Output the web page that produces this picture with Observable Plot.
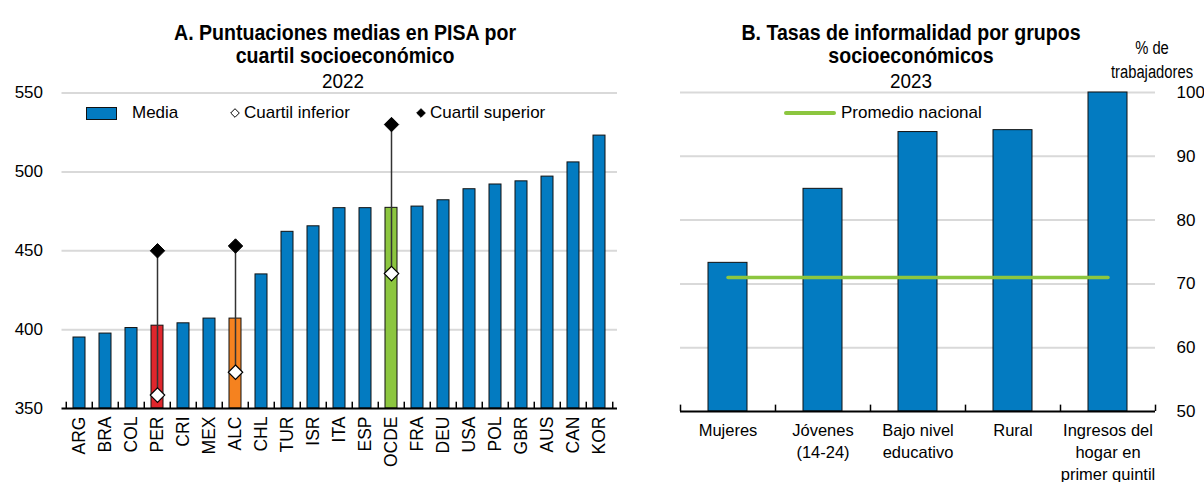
<!DOCTYPE html>
<html>
<head>
<meta charset="utf-8">
<script src="https://cdn.jsdelivr.net/npm/d3@7"></script>
<script src="https://cdn.jsdelivr.net/npm/@observablehq/plot@0.6"></script>
<style>
  body { margin: 0; background: #fff; font-family: "Liberation Sans", Arial, sans-serif; color: #000; }
  #wrap { position: relative; width: 1204px; height: 482px; overflow: hidden; }
  .abs { position: absolute; }
  .title { font-family: "Liberation Sans", Arial, sans-serif; font-weight: bold; font-size: 22px; line-height: 23px; text-align: center; white-space: nowrap; transform: scaleX(0.89); transform-origin: center; }
  .sub { font-family: "Liberation Sans", Arial, sans-serif; font-size: 21px; line-height: 22px; text-align: center; transform: scaleX(0.9); transform-origin: center; }
  .leg { font-size: 17px; line-height: 20px; white-space: nowrap; display: flex; align-items: center; }
  .unit { font-family: "Liberation Sans", Arial, sans-serif; font-size: 18px; line-height: 24px; text-align: center; white-space: nowrap; transform: scaleX(0.82); transform-origin: center; }
</style>
</head>
<body>
<div id="wrap">
  <div id="plotA" class="abs" style="left:0;top:0;"></div>
  <div id="plotB" class="abs" style="left:640px;top:0;"></div>

  <div class="abs title" style="left:0;width:690px;top:21px;">A. Puntuaciones medias en PISA por<br>cuartil socioeconómico</div>
  <div class="abs sub" style="left:0;width:686px;top:70px;">2022</div>

  <div class="abs title" style="left:711px;width:400px;top:21px;">B. Tasas de informalidad por grupos<br>socioeconómicos</div>
  <div class="abs sub" style="left:711px;width:400px;top:70px;">2023</div>
  <div class="abs unit" style="left:1100px;width:104px;top:36px;">% de<br>trabajadores</div>

  <div id="legA" class="abs" style="left:86px;top:103px;width:520px;height:20px;"></div>
  <div id="legB" class="abs" style="left:784px;top:103px;width:260px;height:20px;"></div>
</div>
<script>
// ---------- Data: panel A ----------
const paises = ["ARG","BRA","COL","PER","CRI","MEX","ALC","CHL","TUR","ISR","ITA","ESP","OCDE","FRA","DEU","USA","POL","GBR","AUS","CAN","KOR"];
const media  = [395, 397.5, 401, 402.5, 404, 407, 407, 435, 462, 465.5, 477, 477, 477.2, 478, 482, 489, 492, 494, 497, 506, 523];
const cuartilPaises   = ["PER", "ALC", "OCDE"];
const cuartilInferior = [358.5, 373, 435.5];
const cuartilSuperior = [450, 453, 530];
const ticksA = [350, 400, 450, 500, 550];

// ---------- Data: panel B ----------
const grupos = ["Mujeres", "Jóvenes\n(14-24)", "Bajo nivel\neducativo", "Rural", "Ingresos del\nhogar en\nprimer quintil"];
const tasas  = [73.3, 84.9, 93.8, 94.1, 100];
const promedioNacional = 71;
const ticksB = [50, 60, 70, 80, 90, 100];

// ---------- Styles ----------
const BLUE = "#037bc1", RED = "#e0262c", ORANGE = "#f5821f", GREEN = "#8cc63f";
const destacados = {PER: RED, ALC: ORANGE, OCDE: GREEN};
const FONT = "Liberation Sans, Arial, sans-serif";

const dataA = paises.map((p, i) => ({pais: p, media: media[i]}));
const dataQ = cuartilPaises.map((p, i) => ({pais: p, inf: cuartilInferior[i], sup: cuartilSuperior[i]}));
const dataB = grupos.map((g, i) => ({grupo: g, tasa: tasas[i], prom: promedioNacional}));

// ---------- Panel A ----------
const WA = 620, H = 482, mlA = 61.5, mrA = 3;
const stepA = (WA - mlA - mrA) / paises.length;
const baseA = ticksA[0], topA = ticksA[ticksA.length - 1];
const plotA = Plot.plot({
  width: WA, height: H,
  marginLeft: mlA, marginRight: mrA, marginTop: 92.5, marginBottom: 74,
  style: {fontFamily: FONT, fontSize: "17px", color: "#000", background: "transparent", overflow: "visible"},
  x: {domain: paises, paddingInner: 0.52, paddingOuter: 0.26, label: null},
  y: {domain: [baseA, topA], label: null},
  color: {type: "identity"},
  marks: [
    Plot.gridY(ticksA.slice(1), {stroke: "#d9d9d9", strokeOpacity: 1, strokeWidth: 2}),
    Plot.barY(dataA, {x: "pais", y1: baseA, y2: "media", fill: d => destacados[d.pais] || BLUE, stroke: "#111", strokeWidth: 1}),
    Plot.ruleY([baseA], {stroke: "#000", strokeWidth: 2}),
    Plot.ruleX(paises, {x: d => d, y1: baseA, y2: baseA + 4, dx: -stepA / 2, stroke: "#000", strokeWidth: 1.5}),
    Plot.ruleX(paises.slice(-1), {x: d => d, y1: baseA, y2: baseA + 4, dx: stepA / 2, stroke: "#000", strokeWidth: 1.5}),
    Plot.axisY({ticks: ticksA, tickSize: 0, tickPadding: 19, fontSize: 17, label: null}),
    Plot.axisX({tickSize: 0, tickRotate: -90, tickPadding: 8, fontSize: 17.5, label: null}),
    Plot.ruleX(dataQ, {x: "pais", y1: "inf", y2: "sup", stroke: "#333", strokeWidth: 1.5}),
    Plot.dot(dataQ, {x: "pais", y: "inf", symbol: "diamond2", r: 6.5, fill: "#fff", stroke: "#000", strokeWidth: 1.2}),
    Plot.dot(dataQ, {x: "pais", y: "sup", symbol: "diamond2", r: 6.5, fill: "#000", stroke: "#000", strokeWidth: 1})
  ]
});
document.getElementById("plotA").append(plotA);

// ---------- Panel B ----------
const WB = 564, mlB = 40, mrB = 49;
const stepB = (WB - mlB - mrB) / grupos.length;
const baseB = ticksB[0], topB = ticksB[ticksB.length - 1];
const plotB = Plot.plot({
  width: WB, height: H,
  marginLeft: mlB, marginRight: mrB, marginTop: 92, marginBottom: 71,
  style: {fontFamily: FONT, fontSize: "17px", color: "#000", background: "transparent", overflow: "visible"},
  x: {domain: grupos, paddingInner: 0.59, paddingOuter: 0.295, label: null},
  y: {domain: [baseB, topB], label: null},
  marks: [
    Plot.gridY(ticksB.slice(1), {stroke: "#d9d9d9", strokeOpacity: 1, strokeWidth: 2}),
    Plot.barY(dataB, {x: "grupo", y1: baseB, y2: "tasa", fill: BLUE, stroke: "#111", strokeWidth: 1}),
    Plot.ruleY([baseB], {stroke: "#000", strokeWidth: 2}),
    Plot.ruleX(grupos, {x: d => d, y1: baseB, y2: baseB + 1, dx: -stepB / 2, stroke: "#000", strokeWidth: 1.5}),
    Plot.ruleX(grupos.slice(-1), {x: d => d, y1: baseB, y2: baseB + 1, dx: stepB / 2, stroke: "#000", strokeWidth: 1.5}),
    Plot.lineY(dataB, {x: "grupo", y: "prom", stroke: GREEN, strokeWidth: 3.5, strokeLinecap: "round"}),
    Plot.axisY({anchor: "right", ticks: ticksB, tickSize: 0, tickPadding: 21, fontSize: 17, label: null}),
    Plot.axisX({tickSize: 0, tickPadding: 9, fontSize: 16.5, lineHeight: 1.33, label: null})
  ]
});
document.getElementById("plotB").append(plotB);

// ---------- Legends ----------
function diamond(fill) {
  return `<svg width="10" height="10" viewBox="-5 -5 10 10" style="margin-right:4px"><path d="M0,-4.3L4.3,0L0,4.3L-4.3,0Z" fill="${fill}" stroke="#000" stroke-width="1"/></svg>`;
}
document.getElementById("legA").innerHTML =
  `<div class="leg abs" style="left:0;top:0;"><span style="display:inline-block;width:29px;height:11px;background:${BLUE};border:1px solid #111;margin-right:15px"></span>Media</div>` +
  `<div class="leg abs" style="left:144px;top:0;">${diamond("#fff")}Cuartil inferior</div>` +
  `<div class="leg abs" style="left:330px;top:0;">${diamond("#000")}Cuartil superior</div>`;
document.getElementById("legB").innerHTML =
  `<div class="leg abs" style="left:0;top:0;"><span style="display:inline-block;width:52px;height:3.5px;background:${GREEN};border-radius:2px;margin-right:5px"></span>Promedio nacional</div>`;
</script>
</body>
</html>
